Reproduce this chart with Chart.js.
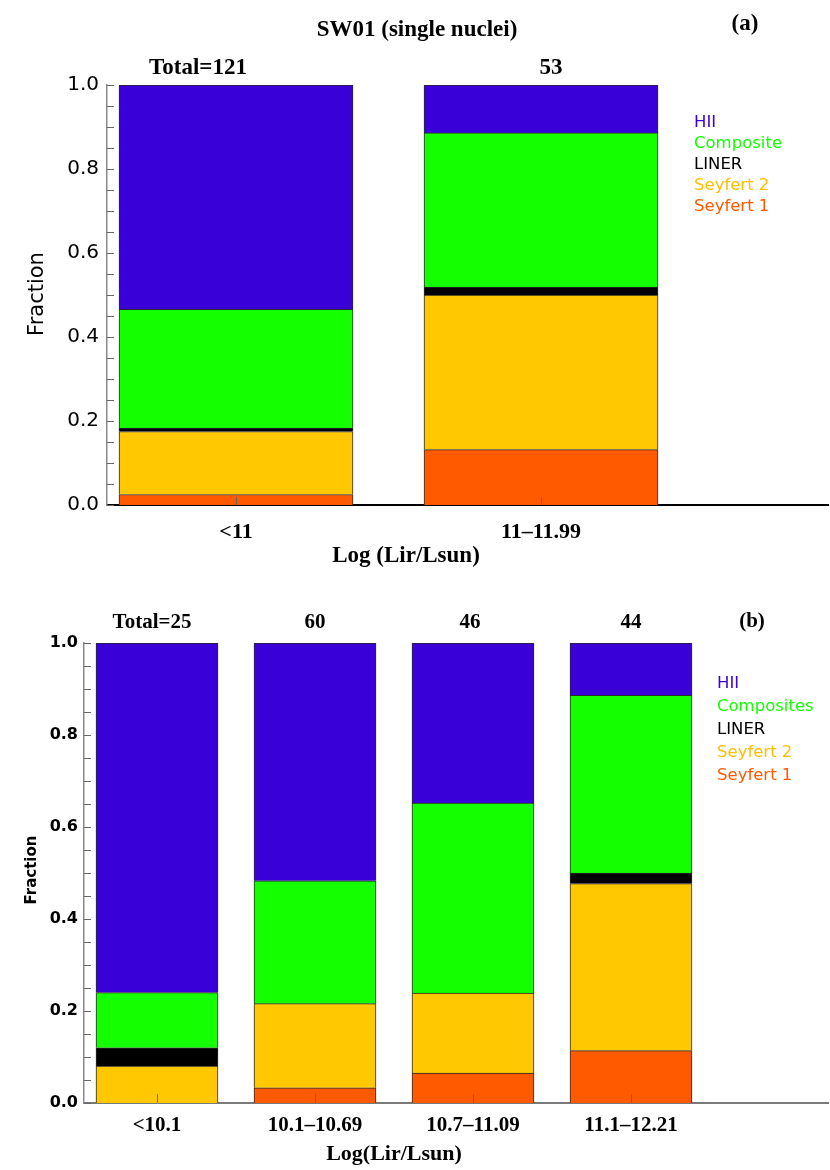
<!DOCTYPE html>
<html>
<head>
<meta charset="utf-8">
<script src="https://cdn.jsdelivr.net/npm/chart.js@4.4.1/dist/chart.umd.min.js"></script>
<style>
  body { margin: 0; background: #fff; }
  #wrapA { position: absolute; left: 0; top: 0; width: 830px; height: 575px; }
  #wrapB { position: absolute; left: 0; top: 575px; width: 830px; height: 595px; }
</style>
</head>
<body>
<div id="wrapA"><canvas id="chartA"></canvas></div>
<div id="wrapB"><canvas id="chartB"></canvas></div>
<script>
// panel (a) - SW01 single nuclei, fractions per luminosity bin
const binsA = ['<11', '11\u201311.99'];
const totalsA = ['Total=121', '53'];
const sy1A = [0.025, 0.132];
const sy2A = [0.150, 0.368];
const linerA = [0.008, 0.019];
const compA = [0.283, 0.367];
const hiiA = [0.534, 0.114];

// panel (b)
const binsB = ['<10.1', '10.1\u201310.69', '10.7\u201311.09', '11.1\u201312.21'];
const totalsB = ['Total=25', '60', '46', '44'];
const sy1B = [0.000, 0.033, 0.065, 0.114];
const sy2B = [0.080, 0.183, 0.174, 0.363];
const linerB = [0.040, 0.000, 0.000, 0.023];
const compB = [0.120, 0.267, 0.413, 0.386];
const hiiB = [0.760, 0.517, 0.348, 0.114];

// stacking order bottom -> top
const classNamesA = ['Seyfert 1', 'Seyfert 2', 'LINER', 'Composite', 'HII'];
const classNamesB = ['Seyfert 1', 'Seyfert 2', 'LINER', 'Composites', 'HII'];
const classColors = ['#ff5a00', '#ffc800', '#000000', '#14ff00', '#3a00d8'];
const legendColors = ['#ff5a00', '#ffbe00', '#000000', '#14ff00', '#3a00d8'];

const yTickValues = [0, 0.2, 0.4, 0.6, 0.8, 1.0];

function makeSets(series, names) {
    return series.map((vals, k) => ({
        label: names[k],
        data: vals.map((v, i) => ({ x: i, y: v })),
        backgroundColor: classColors[k],
        borderColor: '#2a2a2a',
        borderWidth: { top: 1, right: 1, bottom: 0, left: 1 },
        borderSkipped: false
    }));
}

// draws titles, totals, legend text and the inward tick marks
function textPlugin(cfg) {
    return {
        id: 'panelText',
        afterDraw(chart) {
            const ctx = chart.ctx;
            const xs = chart.scales.x;
            const ys = chart.scales.y;
            const area = chart.chartArea;
            ctx.save();

            // inner tick marks
            ctx.strokeStyle = '#666';
            ctx.lineWidth = 1;
            ys.ticks.forEach(t => {
                const y = Math.round(ys.getPixelForValue(t.value)) + 0.5;
                ctx.beginPath();
                ctx.moveTo(area.left, y);
                ctx.lineTo(area.left + cfg.yTickLen, y);
                ctx.stroke();
            });
            xs.ticks.forEach(t => {
                const x = Math.round(xs.getPixelForValue(t.value)) + 0.5;
                ctx.beginPath();
                ctx.moveTo(x, area.bottom);
                ctx.lineTo(x, area.bottom - cfg.xTickLen);
                ctx.stroke();
            });

            ctx.fillStyle = '#000';
            ctx.textAlign = 'center';
            ctx.textBaseline = 'middle';
            ctx.font = 'bold ' + cfg.serifSize + 'px "Liberation Serif"';
            if (cfg.title) ctx.fillText(cfg.title, cfg.titleX, cfg.titleY);
            ctx.fillText(cfg.tag, cfg.tagX, cfg.tagY);

            // totals above the bars
            cfg.totals.forEach((txt, i) => {
                ctx.fillText(txt, xs.getPixelForValue(i) + (cfg.totalDx[i] || 0), cfg.totalY);
            });

            // x axis title
            ctx.font = 'bold ' + cfg.xTitleSize + 'px "Liberation Serif"';
            ctx.fillText(cfg.xTitle, cfg.xTitleX, cfg.xTitleY);

            // y axis title
            ctx.save();
            ctx.translate(cfg.yTitleX, cfg.yTitleY);
            ctx.rotate(-Math.PI / 2);
            ctx.font = cfg.yTitleFont;
            ctx.fillText('Fraction', 0, 0);
            ctx.restore();

            // legend as coloured words, HII on top
            ctx.textAlign = 'left';
            ctx.font = cfg.legendSize + 'px "DejaVu Sans"';
            const n = cfg.names.length;
            for (let j = 0; j < n; j++) {
                const k = n - 1 - j;
                ctx.fillStyle = legendColors[k];
                ctx.fillText(cfg.names[k], cfg.legendX, cfg.legendY + j * cfg.legendStep);
            }
            ctx.restore();
        }
    };
}

function makeChart(canvasId, opts) {
    const ctx = document.getElementById(canvasId).getContext('2d');
    return new Chart(ctx, {
        type: 'bar',
        data: { datasets: makeSets(opts.series, opts.names) },
        options: {
            responsive: true,
            maintainAspectRatio: false,
            animation: false,
            layout: { padding: opts.padding },
            datasets: { bar: { barThickness: opts.barThickness } },
            plugins: { legend: { display: false }, tooltip: { enabled: false } },
            scales: {
                x: {
                    type: 'linear',
                    stacked: true,
                    offset: false,
                    bounds: 'ticks',
                    min: opts.xMin,
                    max: opts.xMax,
                    afterBuildTicks: axis => {
                        axis.ticks = opts.bins.map((_, i) => ({ value: i }));
                    },
                    afterFit: axis => { axis.height = opts.xAxisHeight; },
                    grid: { display: false, drawTicks: false, offset: false },
                    border: { display: true, color: opts.xBorderColor, width: 2 },
                    ticks: {
                        autoSkip: false,
                        maxRotation: 0,
                        padding: opts.xLabelPad,
                        color: '#000',
                        font: { family: 'Liberation Serif', weight: 'bold', size: opts.xLabelSize },
                        callback: v => opts.bins[v]
                    }
                },
                y: {
                    stacked: true,
                    min: 0,
                    max: 1,
                    afterFit: axis => { axis.width = opts.yAxisWidth; },
                    grid: { display: false, drawTicks: false },
                    border: { display: true, color: '#8a8a8a', width: 1.5 },
                    ticks: {
                        stepSize: 0.05,
                        autoSkip: false,
                        padding: opts.yLabelPad,
                        color: '#000',
                        font: opts.yTickFont,
                        callback: v => {
                            const hit = yTickValues.find(t => Math.abs(t - v) < 1e-6);
                            return hit === undefined ? '' : hit.toFixed(1);
                        }
                    }
                }
            }
        },
        plugins: [textPlugin(opts.text)]
    });
}

makeChart('chartA', {
    series: [sy1A, sy2A, linerA, compA, hiiA],
    names: classNamesA,
    bins: binsA,
    padding: { top: 85, bottom: 20, left: 0, right: 2 },
    barThickness: 234,
    xMin: -0.423,
    xMax: 1.941,
    xAxisHeight: 50,
    xBorderColor: '#000',
    xLabelPad: 14,
    xLabelSize: 22,
    yAxisWidth: 107,
    yLabelPad: 8,
    yTickFont: { family: 'DejaVu Sans', size: 20 },
    text: {
        yTickLen: 7, xTickLen: 8,
        serifSize: 23,
        title: 'SW01 (single nuclei)', titleX: 417, titleY: 30,
        tag: '(a)', tagX: 745, tagY: 24,
        totals: totalsA, totalDx: [-38, 10], totalY: 68,
        xTitle: 'Log (Lir/Lsun)', xTitleSize: 23, xTitleX: 406, xTitleY: 556,
        yTitleX: 38, yTitleY: 294, yTitleFont: '21px "DejaVu Sans"',
        names: classNamesA, legendSize: 16.5, legendX: 694, legendY: 123, legendStep: 21
    }
});

makeChart('chartB', {
    series: [sy1B, sy2B, linerB, compB, hiiB],
    names: classNamesB,
    bins: binsB,
    padding: { top: 68, bottom: 22, left: 0, right: 2 },
    barThickness: 122,
    xMin: -0.462,
    xMax: 4.247,
    xAxisHeight: 45,
    xBorderColor: '#7a7a7a',
    xLabelPad: 10,
    xLabelSize: 21,
    yAxisWidth: 84,
    yLabelPad: 6,
    yTickFont: { family: 'DejaVu Sans', weight: 'bold', size: 16 },
    text: {
        yTickLen: 7, xTickLen: 9,
        serifSize: 21,
        title: '', titleX: 0, titleY: 0,
        tag: '(b)', tagX: 752, tagY: 47,
        totals: totalsB, totalDx: [-5, 0, -3, 0], totalY: 48,
        xTitle: 'Log(Lir/Lsun)', xTitleSize: 22, xTitleX: 394, xTitleY: 579,
        yTitleX: 32, yTitleY: 295, yTitleFont: 'bold 15px "DejaVu Sans"',
        names: classNamesB, legendSize: 16.5, legendX: 717, legendY: 109, legendStep: 23
    }
});
</script>
</body>
</html>
